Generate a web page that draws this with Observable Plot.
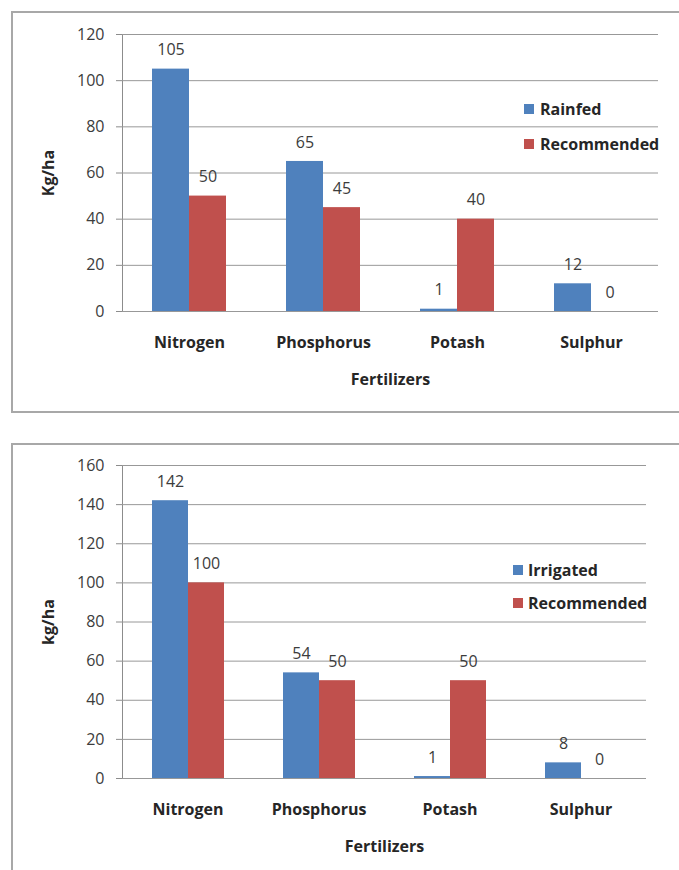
<!DOCTYPE html>
<html>
<head>
<meta charset="utf-8">
<script src="https://cdn.jsdelivr.net/npm/d3@7"></script>
<script src="https://cdn.jsdelivr.net/npm/@observablehq/plot@0.6"></script>
<style>
  html, body { margin: 0; padding: 0; background: #fff; }
  body { position: relative; width: 679px; height: 870px; overflow: hidden; font-family: "Open Sans", sans-serif; }
  .panel { position: absolute; left: 11px; width: 740px; border: 2px solid #a8a8a8; border-right: none; }
  .chart { position: absolute; left: 0; }
  .chart svg text { fill: #3c3c3c; }
  .chart g[aria-label="fx-axis tick label"] text,
  .chart g[aria-label="fx-axis label"] text,
  .chart g[aria-label="y-axis label"] text,
  .chart g[aria-label="fx-axis"] text,
  .chart g[aria-label="y-axis"] > text { font-weight: bold; fill: #262626; }
  .legend { position: absolute; font: bold 16px "Open Sans", sans-serif; color: #262626; }
  .legend .item { display: flex; align-items: center; white-space: nowrap; }
  .legend .swatch { width: 10px; height: 10px; flex: none; }
</style>
</head>
<body>
<div class="panel" style="top:11px;height:398px"></div>
<div class="panel" style="top:443px;height:500px"></div>
<div id="rainfed" class="chart" style="top:0px"></div>
<div id="irrigated" class="chart" style="top:440px"></div>
<div id="rainfed-legend" class="legend" style="left:524px;top:91px"></div>
<div id="irrigated-legend" class="legend" style="left:513px;top:553px"></div>
<script>
// Fertilizer use compared with recommended doses (kg/ha)
const categories = ["Nitrogen", "Phosphorus", "Potash", "Sulphur"];

const rainfedSeries = ["Rainfed", "Recommended"];
const rainfedValues = [105, 65, 1, 12];
const rainfedRecommended = [50, 45, 40, 0];
const rainfedTicks = [0, 20, 40, 60, 80, 100, 120];

const irrigatedSeries = ["Irrigated", "Recommended"];
const irrigatedValues = [142, 54, 1, 8];
const irrigatedRecommended = [100, 50, 50, 0];
const irrigatedTicks = [0, 20, 40, 60, 80, 100, 120, 140, 160];

const seriesColors = ["#4f81bd", "#c0504d"];

function drawChart({series, values, ticks, yLabel, width, height, margins}) {
  const rows = categories.flatMap((category, i) =>
    series.map((s, j) => ({category, series: s, value: values[j][i]}))
  );
  return Plot.plot({
    width,
    height,
    ...margins,
    style: {fontFamily: "'Open Sans', sans-serif", fontSize: "16px", color: "#8c8c8c", background: "transparent", overflow: "visible"},
    facet: {data: rows, x: "category"},
    fx: {domain: categories, padding: 0, label: "Fertilizers", tickSize: 0, tickPadding: 25, labelAnchor: "center", labelOffset: 73},
    x: {domain: series, paddingInner: 0, paddingOuter: 0.8, axis: null},
    y: {domain: [0, d3.max(ticks)], ticks, tickSize: 6, tickPadding: 12, line: true, label: yLabel, labelAnchor: "center", labelOffset: 80, labelArrow: "none"},
    color: {domain: series, range: seriesColors},
    marks: [
      Plot.ruleY(ticks, {stroke: "#989898"}),
      Plot.barY(rows, {x: "series", y: "value", fill: "series"}),
      Plot.text(rows, {x: "series", y: "value", text: d => String(d.value), dy: -19})
    ]
  });
}

function drawLegend(el, series, gap, rowHeight) {
  series.forEach((s, i) => {
    const item = document.createElement("div");
    item.className = "item";
    item.style.height = rowHeight + "px";
    const sw = document.createElement("span");
    sw.className = "swatch";
    sw.style.background = seriesColors[i];
    sw.style.marginRight = gap + "px";
    const label = document.createElement("span");
    label.textContent = s;
    item.append(sw, label);
    el.append(item);
  });
}

document.getElementById("rainfed").append(drawChart({
  series: rainfedSeries,
  values: [rainfedValues, rainfedRecommended],
  ticks: rainfedTicks,
  yLabel: "Kg/ha",
  width: 679,
  height: 412,
  margins: {marginLeft: 120, marginRight: 20, marginTop: 34, marginBottom: 101}
}));

document.getElementById("irrigated").append(drawChart({
  series: irrigatedSeries,
  values: [irrigatedValues, irrigatedRecommended],
  ticks: irrigatedTicks,
  yLabel: "kg/ha",
  width: 679,
  height: 430,
  margins: {marginLeft: 120, marginRight: 32, marginTop: 25, marginBottom: 92}
}));

drawLegend(document.getElementById("rainfed-legend"), rainfedSeries, 6, 35);
drawLegend(document.getElementById("irrigated-legend"), irrigatedSeries, 5, 33);
</script>
</body>
</html>
